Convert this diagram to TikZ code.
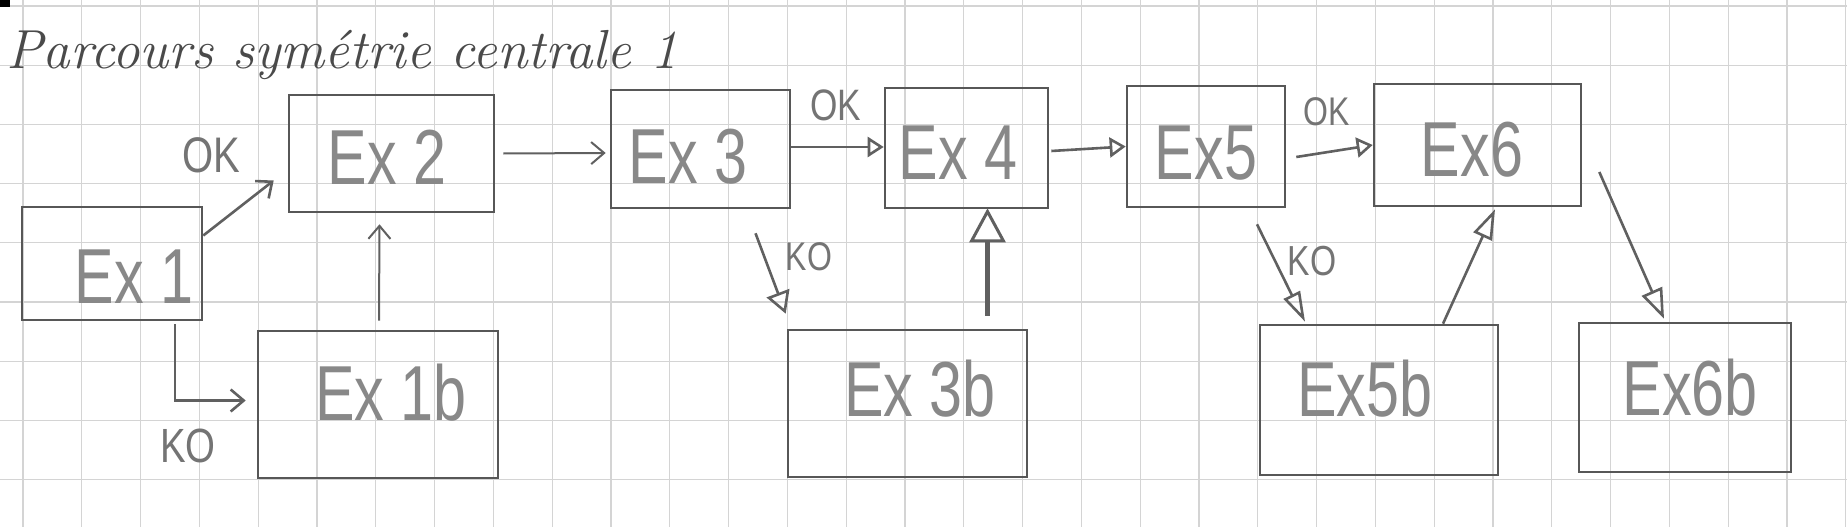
\documentclass[tikz,border=0pt]{standalone}
\usepackage{fontspec}
\usepackage{graphicx}
\newfontfamily\hand{Liberation Sans}
\usetikzlibrary{arrows.meta,calc}
\definecolor{gridc}{HTML}{D4D4D4}
\definecolor{boxc}{HTML}{575757}
\definecolor{txtc}{HTML}{888888}
\definecolor{arrc}{HTML}{606060}
\definecolor{lblc}{HTML}{747474}
\definecolor{titlec}{HTML}{4A4A4A}
\newcommand{\hx}[1]{\scalebox{0.76}[1]{#1}}
\newcommand{\lx}[1]{\scalebox{0.8}[1]{#1}}
\tikzset{
  gridline/.style={draw=gridc, line width=1.3pt},
  exbox/.style={draw=boxc, line width=2.6pt, inner sep=0pt},
  extxt/.style={text=txtc, inner sep=0pt, font=\hand\fontsize{78}{90}\selectfont},
  lbl/.style={text=lblc, inner sep=0pt, font=\hand\fontsize{#1}{#1}\selectfont},
  conn/.style={draw=arrc, line width=2.6pt},
  barb/.style={-{Straight Barb[length=13pt,width=22pt]}},
}
\begin{document}
\begin{tikzpicture}[x=1pt,y=-1pt]
\useasboundingbox (0,0) rectangle (1847,527);
\fill[white] (0,0) rectangle (1847,527);
% graph paper
\foreach \i in {0,...,31} \draw[gridline] ({23+58.8*\i},0) -- ({23+58.8*\i},527);
\foreach \j in {0,...,8} \draw[gridline] (0,{6+59.2*\j}) -- (1847,{6+59.2*\j});
\fill[black] (0,0) rectangle (10,7);
% title
\node[anchor=base west, inner sep=0pt, text=titlec, font=\itshape\fontsize{55}{60}\selectfont] (title) at (6,68) {Parcours symétrie centrale 1};
% boxes
\node[exbox, minimum width=180pt, minimum height=113pt, label={[extxt,xshift=22pt,yshift=-13.5pt]center:\hx{Ex 1}}] (Ex1) at (112,263.5) {};
\node[exbox, minimum width=205pt, minimum height=117pt, label={[extxt,xshift=-4.5pt,yshift=-3.5pt]center:\hx{Ex 2}}] (Ex2) at (391.5,153.5) {};
\node[exbox, minimum width=240pt, minimum height=147pt, label={[extxt,xshift=13pt,yshift=11.5pt]center:\hx{Ex 1b}}] (Ex1b) at (378,404.5) {};
\node[exbox, minimum width=179pt, minimum height=118pt, label={[extxt,xshift=-12.5pt,yshift=-8pt]center:\hx{Ex 3}}] (Ex3) at (700.5,149) {};
\node[exbox, minimum width=163pt, minimum height=120pt, label={[extxt,xshift=-8.5pt,yshift=-5pt]center:\hx{Ex 4}}] (Ex4) at (966.5,148) {};
\node[exbox, minimum width=239pt, minimum height=147pt, label={[extxt,xshift=12.5pt,yshift=14.5pt]center:\hx{Ex 3b}}] (Ex3b) at (907.5,403.5) {};
\node[exbox, minimum width=158pt, minimum height=121pt, label={[extxt,xshift=0pt,yshift=-6.5pt]center:\hx{Ex5}}] (Ex5) at (1206,146.5) {};
\node[exbox, minimum width=207pt, minimum height=122pt, label={[extxt,xshift=-5.5pt,yshift=-5pt]center:\hx{Ex6}}] (Ex6) at (1477.5,145) {};
\node[exbox, minimum width=238pt, minimum height=150pt, label={[extxt,xshift=-14pt,yshift=11pt]center:\hx{Ex5b}}] (Ex5b) at (1379,400) {};
\node[exbox, minimum width=212pt, minimum height=149pt, label={[extxt,xshift=5pt,yshift=9.5pt]center:\hx{Ex6b}}] (Ex6b) at (1685,397.5) {};
% labels
\node[lbl=50] (ok1) at (211,155) {\lx{OK}};
\node[lbl=48] (ko1) at (188,446) {\lx{KO}};
\node[lbl=44] (ok3) at (836,105) {\lx{OK}};
\node[lbl=40] (ko3) at (809,257) {\lx{KO}};
\node[lbl=40] (ok5) at (1327,112) {\lx{OK}};
\node[lbl=42] (ko5) at (1312,261) {\lx{KO}};
% connectors
\draw[conn, barb] ($(Ex1.east)+(0,-28)$) -- ($(Ex2.west)+(-14,27)$);
\draw[conn, barb] ($(Ex1.south)+(63,3)$) |- ($(Ex1b.west)+(-11,-4)$);
\draw[conn, line width=2pt, barb] ($(Ex1b.north)+(1,-9)$) -- ($(Ex2.south)+(-12,11)$);
\draw[conn, line width=2pt, barb] ($(Ex2.east)+(8,0)$) -- ($(Ex3.west)+(-4,4)$);
\draw[conn, -{Triangle[open,length=16pt,width=20pt]}] ($(Ex3.east)+(0,-2)$) -- ($(Ex4.west)+(0,-1)$);
\draw[conn, -{Triangle[open,length=22pt,width=24pt]}] ($(Ex3.south)+(55,24)$) -- ($(Ex3b.north west)+(-1,-15)$);
\draw[conn, line width=4.5pt, -{Triangle[open,length=34pt,width=36pt,line width=3pt]}] ($(Ex3b.north)+(80,-13)$) -- ($(Ex4.south)+(21,-1)$);
\draw[conn, -{Triangle[open,length=16pt,width=20pt]}] ($(Ex4.east)+(2,3)$) -- ($(Ex5.west)+(0,0)$);
\draw[conn, -{Triangle[open,length=16pt,width=20pt]}] ($(Ex5.east)+(10,10.5)$) -- (Ex6.west);
\draw[conn, -{Triangle[open,length=30pt,width=18pt]}] ($(Ex5.south)+(51,16)$) -- ($(Ex5b.north)+(-74,-2)$);
\draw[conn, -{Triangle[open,length=30pt,width=20pt]}] ($(Ex5b.north)+(64,0)$) -- ($(Ex6.south)+(17.5,2)$);
\draw[conn, -{Triangle[open,length=30pt,width=22pt]}] ($(Ex6.east)+(17,27)$) -- ($(Ex6b.north)+(-21,-3)$);
\end{tikzpicture}
\end{document}
